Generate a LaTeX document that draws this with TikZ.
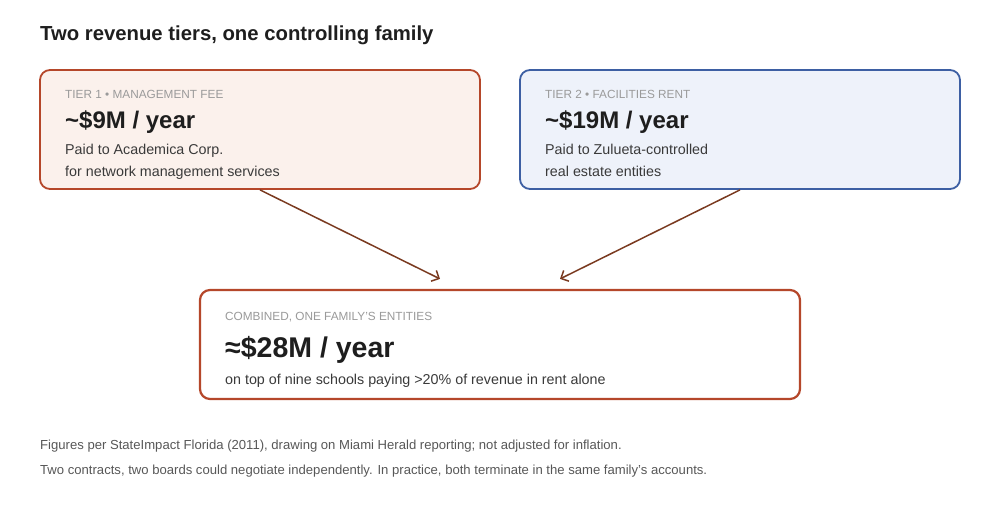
\documentclass[tikz,border=0pt]{standalone}
\usepackage{fontspec}
\setmainfont{Liberation Sans}
\usetikzlibrary{arrows.meta}
\definecolor{rust}{HTML}{B5472A}
\definecolor{rustfill}{HTML}{FBF1EC}
\definecolor{navy}{HTML}{3D5FA3}
\definecolor{navyfill}{HTML}{EEF2FA}
\definecolor{flow}{HTML}{7A3A20}
\definecolor{ink}{HTML}{1E1E1E}
\definecolor{body}{HTML}{3A3A3A}
\definecolor{muted}{HTML}{9A9A9A}
\begin{document}
\begin{tikzpicture}[
          x=1pt, y=-1pt,
          tierbox/.style={rectangle, rounded corners=10pt, line width=1.8pt, inner sep=0pt},
          kicker/.style={anchor=base west, inner sep=0pt, text=muted, font=\fontsize{11.8}{14}\selectfont},
          amount/.style={anchor=base west, inner sep=0pt, text=ink, font=\bfseries\fontsize{24}{28}\selectfont},
          detail/.style={anchor=base west, inner sep=0pt, text=body, font=\fontsize{14.3}{17}\selectfont},
          note/.style={anchor=base west, inner sep=0pt, text=body!85, font=\fontsize{13.1}{15}\selectfont},
          flowline/.style={-{Straight Barb[length=6pt, width=12pt, line width=1.5pt]}, line width=1.5pt, draw=flow}
    ]
    \useasboundingbox (0,0) rectangle (1000,520);

    \node[anchor=base west, inner sep=0pt, text=ink, font=\bfseries\fontsize{20.3}{24}\selectfont] (title) at (40,40) {Two revenue tiers, one controlling family};

    % tier boxes
    \node[tierbox, draw=rust, fill=rustfill, minimum width=440pt, minimum height=119pt] (tier1) at (260,129.5) {};
    \node[tierbox, draw=navy, fill=navyfill, minimum width=440pt, minimum height=119pt] (tier2) at (740,129.5) {};
    \node[tierbox, draw=rust, fill=white, line width=2.2pt, minimum width=600pt, minimum height=109pt] (combined) at (500,344.5) {};

    \node[kicker] (tier1kick) at (65,98) {TIER 1 • MANAGEMENT FEE};
    \node[amount] (tier1amt) at (65,128) {\textasciitilde\$9M / year};
    \node[detail] (tier1a) at (65,154) {Paid to Academica Corp.};
    \node[detail] (tier1b) at (65,176) {for network management services};

    \node[kicker] (tier2kick) at (545,98) {TIER 2 • FACILITIES RENT};
    \node[amount] (tier2amt) at (545,128) {\textasciitilde\$19M / year};
    \node[detail] (tier2a) at (545,154) {Paid to Zulueta-controlled};
    \node[detail] (tier2b) at (545,176) {real estate entities};

    \node[kicker] (combkick) at (225,320) {COMBINED, ONE FAMILY'S ENTITIES};
    \node[amount, font=\bfseries\fontsize{28.5}{33}\selectfont] (combamt) at (225,357) {≈\$28M / year};
    \node[detail] (combtext) at (225,384) {on top of nine schools paying >20\% of revenue in rent alone};

    % flows
    \draw[flowline] (tier1.south) -- ([xshift=-60pt, yshift=10pt]combined.north);
    \draw[flowline] (tier2.south) -- ([xshift=60pt, yshift=10pt]combined.north);

    \node[note] (source) at (40,449) {Figures per StateImpact Florida (2011), drawing on Miami Herald reporting; not adjusted for inflation.};
    \node[note] (caveat) at (40,474) {Two contracts, two boards could negotiate independently. In practice, both terminate in the same family’s accounts.};

\end{tikzpicture}
\end{document}
